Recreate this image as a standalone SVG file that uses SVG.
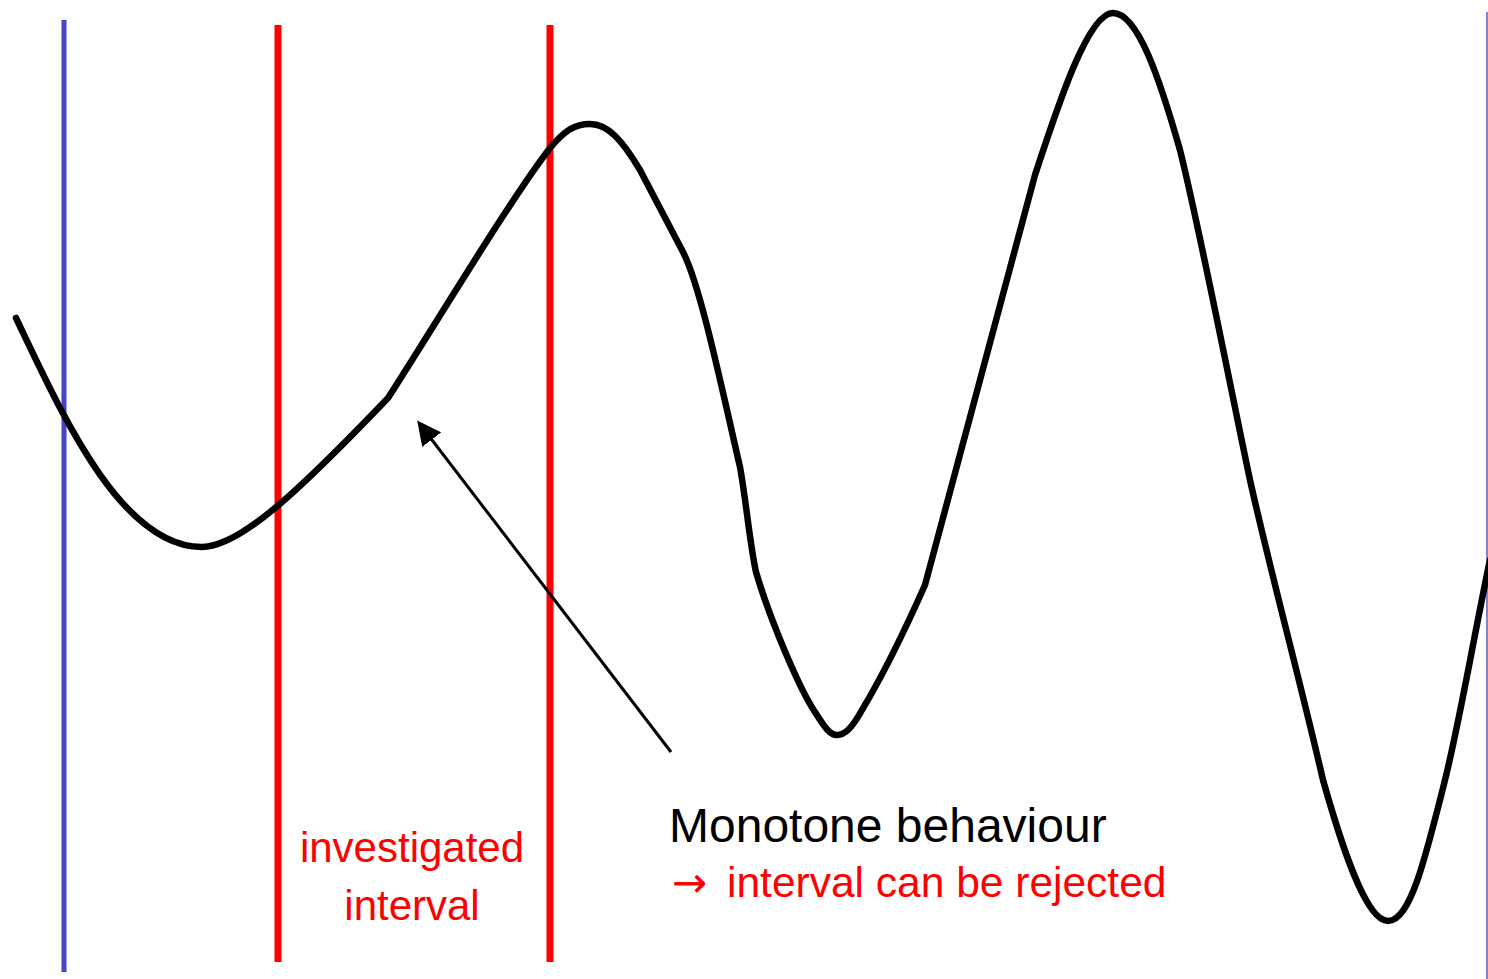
<svg xmlns="http://www.w3.org/2000/svg" width="1488" height="979" viewBox="0 0 1488 979">
<style>
.red{stroke:#FF0000;stroke-width:7;fill:none}
.blue{stroke:#4444C4;stroke-width:5;fill:none}
.curve{stroke:#000;stroke-width:6.5;fill:none;stroke-linecap:round;stroke-linejoin:round}
.t{font-family:"Liberation Sans",Arial,sans-serif}
</style>
<defs>
<marker id="ah" markerWidth="8" markerHeight="8" refX="7" refY="4" orient="auto" markerUnits="strokeWidth">
<path d="M0,0 L8,4 L0,8 Z" fill="#000"/>
</marker>
</defs>
<rect width="1488" height="979" fill="#fff"/>
<g id="lines">
<line class="blue" x1="64" y1="20" x2="64" y2="972"/>
<line class="red" x1="278" y1="25" x2="278" y2="962"/>
<line class="red" x1="550" y1="25" x2="550" y2="962"/>
<line x1="1487" y1="12" x2="1487" y2="979" stroke="#5A5AC8" stroke-width="1.5"/>
</g>
<g id="curve">
<path class="curve" d="M16,318 C60,410 120,547 202,547 C240,547 300,490 388,398 C435,325 510,200 550,148 C565,130 575,124 590,124 C608,124 622,140 640,170 L683,252 C700,285 720,380 740,467 C746,500 750,545 756,572 C770,620 800,690 815,712 C825,728 830,735 837,735 C845,735 852,728 862,710 C880,680 905,630 925,585 L1035,175 C1058,105 1088,13 1113,13 C1138,13 1160,80 1180,150 C1200,230 1235,410 1250,480 C1270,570 1300,680 1323,780 C1340,840 1365,921 1388,921 C1410,921 1425,860 1445,780 C1460,720 1475,630 1490,560"/>
</g>
<g id="connectors">
<line x1="671" y1="752" x2="419" y2="423" stroke="#000" stroke-width="3" marker-end="url(#ah)"/>
</g>
<g id="label-interval" class="t" fill="#FF0000" font-size="42" text-anchor="middle">
<text x="412" y="862">investigated</text>
<text x="412" y="920">interval</text>
</g>
<g id="label-monotone" class="t">
<text x="669" y="842" font-size="48" fill="#000">Monotone behaviour</text>
<text x="672" y="897" font-size="42.5" fill="#FF0000"><tspan font-family="'DejaVu Sans',sans-serif" font-size="42">→</tspan><tspan x="727">interval can be rejected</tspan></text>
</g>
</svg>
